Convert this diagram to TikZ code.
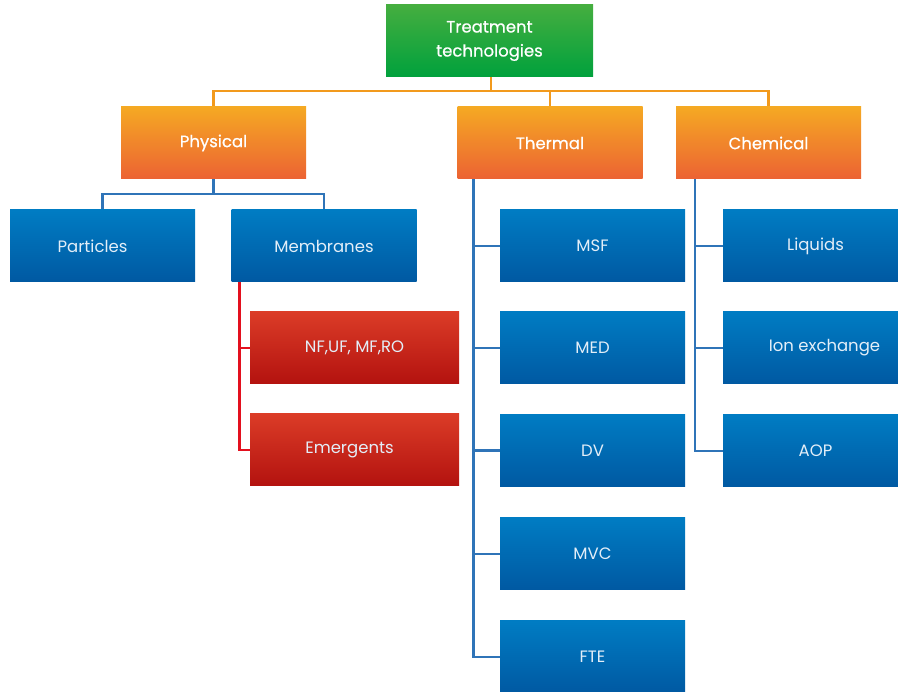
\documentclass[tikz,border=0pt]{standalone}
\usepackage{fontspec}
\setmainfont{Poppins}
\newfontfamily\headfont{Poppins}[FakeBold=0.6]
\usetikzlibrary{backgrounds}
\definecolor{greenT}{HTML}{45AE3F}
\definecolor{greenB}{HTML}{00A13D}
\definecolor{orangeT}{HTML}{F5A923}
\definecolor{orangeB}{HTML}{EC6233}
\definecolor{blueT}{HTML}{007CC3}
\definecolor{blueB}{HTML}{0059A2}
\definecolor{redT}{HTML}{DB3C27}
\definecolor{redB}{HTML}{B3120F}
\definecolor{oline}{HTML}{F29A1D}
\definecolor{bline}{HTML}{2F74B8}
\definecolor{rline}{HTML}{E3101E}
\definecolor{lighttext}{HTML}{E3EEF8}
\tikzset{
  box/.style={minimum width=185pt, minimum height=72pt, inner sep=0pt, align=center, draw=none},
  topbox/.style={box, minimum width=207pt, top color=greenT, bottom color=greenB, text=white, font=\headfont\fontsize{16.5}{24}\selectfont},
  catbox/.style={box, top color=orangeT, bottom color=orangeB, text=white, font=\headfont\fontsize{16.5}{20}\selectfont},
  leafbox/.style={box, top color=blueT, bottom color=blueB, text=lighttext, font=\fontsize{16.5}{20}\selectfont},
  redbox/.style={box, minimum width=209pt, top color=redT, bottom color=redB, text=lighttext, font=\fontsize{16.5}{20}\selectfont},
  oconn/.style={draw=oline, line width=2.6pt},
  bconn/.style={draw=bline, line width=2.6pt},
  rconn/.style={draw=rline, line width=2.6pt},
}
\begin{document}
\begin{tikzpicture}[x=1pt,y=-1pt]
\useasboundingbox (0,0) rectangle (898,692);
\clip (0,0) rectangle (898,692);
% top
\node[topbox] (top) at (489.5,41) {Treatment\\technologies};
% categories
\node[catbox] (phys) at (213.5,143) {Physical};
\node[catbox] (therm) at (550,143) {Thermal};
\node[catbox] (chem) at (768.5,143) {Chemical};
% physical leaves
\node[leafbox] (part) at (102.5,246) {Particles\hspace*{20pt}};
\node[leafbox] (memb) at (324,246) {Membranes};
\node[redbox] (nf) at (354.5,348) {NF,UF, MF,RO};
\node[redbox] (emer) at (354.5,450) {Emergents\hspace*{10pt}};
% thermal leaves
\node[leafbox] (msf) at (592.5,246) {MSF};
\node[leafbox] (med) at (592.5,348) {MED};
\node[leafbox] (dv) at (592.5,450.5) {DV};
\node[leafbox] (mvc) at (592.5,554) {MVC};
\node[leafbox] (fte) at (592.5,657) {FTE};
% chemical leaves
\node[leafbox] (liq) at (815.5,246) {Liquids};
\node[leafbox] (ion) at (815.5,348) {\hspace*{18pt}Ion exchange};
\node[leafbox] (aop) at (815.5,451) {AOP};
% connectors
\coordinate (obus) at (491,91);
\coordinate (pbus) at (213.5,194);
\coordinate (ttop) at ([xshift=16pt]therm.south west);
\coordinate (ctop) at ([xshift=19pt]chem.south west);
\coordinate (mtop) at ([xshift=8pt]memb.south west);
\begin{scope}[on background layer]
\draw[oconn] (top.south -| obus) -- (obus);
\draw[oconn] (phys.north) |- (obus) -| (chem.north);
\draw[oconn] (obus) -| (therm.north);
\draw[bconn] (phys.south) -- (pbus);
\draw[bconn] (part.north) |- (pbus) -| (memb.north);
\draw[bconn] (ttop) |- (fte.west);
\draw[bconn] (ttop |- msf.west) -- (msf.west);
\draw[bconn] (ttop |- med.west) -- (med.west);
\draw[bconn] (ttop |- dv.west) -- (dv.west);
\draw[bconn] (ttop |- mvc.west) -- (mvc.west);
\draw[bconn] (ctop) |- (aop.west);
\draw[bconn] (ctop |- liq.west) -- (liq.west);
\draw[bconn] (ctop |- ion.west) -- (ion.west);
\draw[rconn] (mtop) |- (emer.west);
\draw[rconn] (mtop |- nf.west) -- (nf.west);
\end{scope}
\end{tikzpicture}
\end{document}
